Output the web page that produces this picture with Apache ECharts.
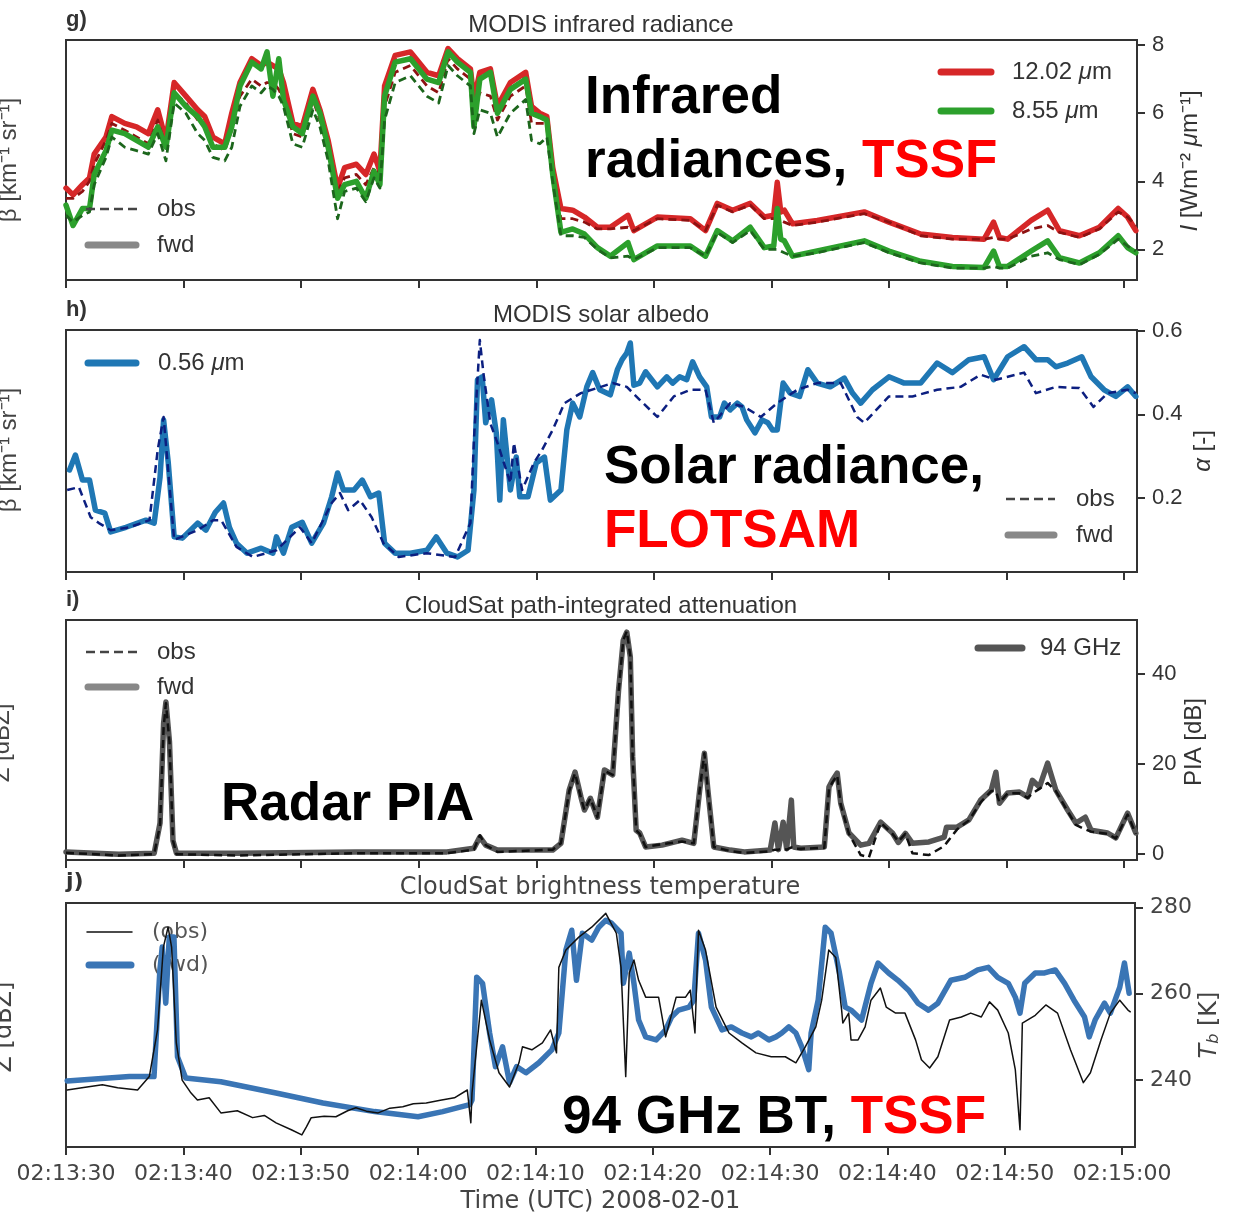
<!DOCTYPE html>
<html>
<head>
<meta charset="utf-8">
<script src="https://cdn.jsdelivr.net/npm/echarts@6/dist/echarts.min.js"></script>
<style>
  html, body { margin: 0; padding: 0; background: #fff; }
  #chart { width: 1234px; height: 1217px; }
</style>
</head>
<body>
<div id="chart"></div>
<script>
// ---- time axis (seconds after 02:13:30 UTC) ----
const xTicks = [0, 10, 20, 30, 40, 50, 60, 70, 80, 90];
const xTickLabels = ['02:13:30', '02:13:40', '02:13:50', '02:14:00', '02:14:10',
                     '02:14:20', '02:14:30', '02:14:40', '02:14:50', '02:15:00'];

// ---- g) MODIS infrared radiance [W m-2 um-1] ----
const tIR = [0.0, 0.6, 1.4, 2.0, 2.4, 3.4, 3.9, 5.0, 6.0, 7.0,
  7.8, 8.5, 9.2, 10.2, 11.2, 11.8, 12.5, 13.5, 14.1, 14.8,
  15.8, 16.6, 17.1, 17.6, 18.1, 18.5, 19.3, 20.1, 21.0, 21.6,
  22.3, 23.1, 23.7, 24.7, 25.5, 26.2, 26.7, 27.1, 28.0, 29.3,
  30.7, 31.7, 32.5, 33.3, 34.4, 34.7, 35.2, 36.1, 36.7, 37.8,
  39.1, 39.6, 40.3, 40.9, 41.4, 42.1, 43.1, 44.1, 45.2, 46.3,
  47.8, 48.3, 50.3, 53.1, 54.4, 55.4, 56.7, 58.2, 59.4, 60.2,
  60.5, 60.8, 61.1, 61.8, 63.9, 67.9, 70.0, 72.7, 75.4, 78.1,
  78.9, 79.4, 80.1, 82.1, 83.5, 84.5, 86.2, 87.9, 89.5, 90.3,
  91.0];
const ir1202Fwd = [3.8, 3.6, 3.9, 4.1, 4.8, 5.3, 5.9, 5.7, 5.6, 5.4,
  6.1, 5.2, 6.9, 6.5, 6.1, 5.9, 5.3, 5.1, 6.0, 6.9,
  7.6, 7.4, 7.5, 7.4, 7.3, 6.9, 5.7, 5.6, 6.7, 6.1,
  5.2, 3.8, 4.4, 4.5, 4.2, 4.8, 4.3, 6.8, 7.7, 7.8,
  7.2, 7.1, 7.9, 7.6, 7.3, 6.4, 7.2, 7.3, 6.2, 6.9,
  7.2, 6.2, 6.0, 5.9, 4.4, 3.2, 3.15, 2.95, 2.65, 2.65,
  3.0, 2.55, 2.95, 2.9, 2.55, 3.35, 3.15, 3.35, 2.95, 3.0,
  3.97, 3.1, 3.15, 2.75, 2.85, 3.1, 2.8, 2.45, 2.35, 2.3,
  2.8, 2.35, 2.3, 2.85, 3.15, 2.55, 2.4, 2.65, 3.2, 2.95,
  2.55];
const ir1202Obs = [3.5, 3.5, 3.7, 4.0, 4.5, 5.2, 5.7, 5.5, 5.3, 5.1,
  5.8, 5.0, 6.6, 6.3, 5.8, 5.6, 5.1, 4.9, 5.5, 6.5,
  7.0, 6.8, 6.9, 6.9, 6.7, 6.4, 5.4, 5.3, 6.4, 5.8,
  4.9, 3.7, 4.1, 4.2, 3.9, 4.4, 4.2, 6.2, 7.2, 7.4,
  6.8, 6.6, 7.6, 7.3, 7.0, 6.1, 6.6, 6.5, 5.8, 6.5,
  6.8, 5.7, 5.7, 5.7, 4.2, 2.9, 2.9, 2.8, 2.6, 2.6,
  2.65, 2.55, 2.9, 2.85, 2.55, 3.3, 3.1, 3.3, 2.9, 2.9,
  2.9, 2.85, 2.8, 2.7, 2.8, 3.05, 2.8, 2.4, 2.3, 2.3,
  2.35, 2.3, 2.3, 2.6, 2.7, 2.5, 2.35, 2.6, 3.1, 2.95,
  2.7];
const ir855Fwd = [3.3, 2.7, 3.2, 3.2, 4.2, 4.9, 5.5, 5.4, 5.2, 5.0,
  5.6, 5.0, 6.6, 6.2, 5.9, 5.6, 5.0, 5.0, 5.6, 6.8,
  7.5, 7.3, 7.8, 6.5, 7.6, 6.4, 5.6, 5.4, 6.5, 6.0,
  5.0, 3.5, 3.9, 4.0, 3.5, 4.3, 3.9, 6.5, 7.5, 7.6,
  7.0, 6.9, 7.8, 7.5, 7.2, 5.6, 7.0, 7.2, 6.0, 6.7,
  7.0, 6.0, 5.9, 5.8, 4.2, 2.5, 2.6, 2.45, 2.05, 1.8,
  2.2, 1.7, 2.1, 2.1, 1.8, 2.55, 2.25, 2.65, 2.05, 2.1,
  3.2, 2.3, 2.25, 1.8, 1.95, 2.25, 1.95, 1.65, 1.5, 1.47,
  1.95, 1.5, 1.5, 1.95, 2.25, 1.76, 1.6, 1.9, 2.4, 2.05,
  1.9];
const ir855Obs = [3.0, 2.8, 3.0, 3.1, 3.9, 4.7, 5.3, 5.0, 4.9, 4.8,
  5.4, 4.6, 6.3, 6.0, 5.4, 5.2, 4.7, 4.6, 5.0, 6.2,
  6.8, 6.6, 6.8, 6.7, 6.5, 6.2, 5.1, 5.0, 6.1, 5.6,
  4.6, 2.9, 3.7, 3.8, 3.4, 4.1, 3.8, 5.8, 6.9, 7.1,
  6.5, 6.3, 7.4, 7.1, 6.8, 5.4, 6.1, 6.0, 5.3, 6.0,
  6.4, 5.2, 5.1, 5.3, 4.0, 2.4, 2.4, 2.35, 2.0, 1.75,
  1.8, 1.7, 2.05, 2.05, 1.8, 2.5, 2.2, 2.55, 2.0, 2.0,
  2.0, 1.95, 1.9, 1.8, 1.9, 2.2, 1.9, 1.6, 1.45, 1.45,
  1.5, 1.45, 1.45, 1.8, 1.9, 1.7, 1.55, 1.85, 2.3, 2.1,
  1.95];

// ---- h) MODIS solar albedo [-] ----
const tAlbFwd = [0.3, 0.8, 1.4, 2.0, 2.5, 3.3, 3.8, 5.1, 6.8, 7.5,
  8.0, 8.3, 8.7, 9.2, 9.9, 11.2, 11.9, 12.7, 13.4, 13.9,
  14.5, 15.4, 16.6, 17.6, 17.9, 18.5, 19.2, 20.1, 20.9, 21.9,
  22.6, 23.1, 23.6, 24.5, 25.2, 25.9, 26.6, 27.1, 28.0, 29.3,
  30.7, 31.5, 32.4, 33.3, 34.2, 34.7, 35.0, 35.4, 35.7, 36.2,
  36.6, 36.9, 37.2, 37.8, 38.3, 38.6, 39.3, 40.0, 40.7, 41.2,
  42.1, 42.6, 43.1, 43.7, 44.3, 44.8, 45.4, 46.3, 46.9, 47.3,
  47.7, 48.0, 48.3, 48.8, 49.3, 50.3, 51.1, 51.6, 52.2, 52.8,
  53.3, 53.9, 54.5, 54.9, 55.6, 56.0, 56.5, 57.1, 57.5, 57.9,
  58.6, 59.2, 59.7, 60.1, 60.5, 61.0, 61.6, 62.4, 63.1, 63.9,
  65.0, 66.2, 66.9, 67.6, 68.6, 70.0, 71.3, 72.7, 74.1, 75.4,
  76.8, 78.1, 78.9, 80.1, 81.5, 82.5, 83.5, 84.2, 85.2, 86.4,
  87.2, 88.3, 89.3, 90.3, 91.0];
const albFwd = [0.267, 0.303, 0.243, 0.243, 0.171, 0.164, 0.119, 0.13, 0.147, 0.14,
  0.25, 0.387, 0.284, 0.107, 0.104, 0.14, 0.123, 0.166, 0.188, 0.13,
  0.092, 0.068, 0.08, 0.068, 0.107, 0.068, 0.13, 0.142, 0.092, 0.14,
  0.203, 0.26, 0.219, 0.219, 0.243, 0.203, 0.212, 0.092, 0.068, 0.068,
  0.075, 0.107, 0.068, 0.059, 0.075, 0.219, 0.483, 0.49, 0.38, 0.435,
  0.356, 0.195, 0.387, 0.219, 0.298, 0.203, 0.203, 0.284, 0.298, 0.195,
  0.219, 0.363, 0.427, 0.394, 0.466, 0.5, 0.459, 0.447, 0.507, 0.531,
  0.547, 0.571, 0.47, 0.475, 0.502, 0.466, 0.49, 0.475, 0.49, 0.483,
  0.526, 0.49, 0.466, 0.394, 0.394, 0.427, 0.411, 0.427, 0.418, 0.387,
  0.356, 0.387, 0.38, 0.363, 0.363, 0.475, 0.451, 0.443, 0.507, 0.475,
  0.466, 0.487, 0.451, 0.427, 0.459, 0.49, 0.475, 0.475, 0.523, 0.5,
  0.531, 0.538, 0.483, 0.538, 0.562, 0.531, 0.531, 0.514, 0.523, 0.538,
  0.49, 0.459, 0.443, 0.466, 0.443];
const tAlbObs = [0.1, 1.1, 2.1, 2.8, 3.8, 5.4, 7.1, 7.8, 8.3, 9.2,
  11.2, 12.5, 13.2, 14.5, 15.9, 17.9, 19.9, 20.9, 22.6, 23.3,
  24.0, 25.0, 26.0, 27.0, 28.3, 30.7, 33.1, 34.4, 34.7, 35.2,
  35.5, 36.1, 36.7, 37.8, 38.1, 38.8, 39.8, 40.5, 41.4, 42.4,
  43.8, 45.5, 46.5, 47.7, 48.8, 50.3, 51.7, 53.1, 54.4, 55.1,
  56.5, 57.7, 59.1, 60.5, 62.2, 63.9, 65.9, 67.3, 67.9, 70.0,
  72.0, 74.1, 76.1, 77.8, 79.1, 81.5, 82.5, 84.2, 86.2, 87.4,
  88.6, 90.3, 91.0];
const albObs = [0.219, 0.226, 0.154, 0.14, 0.123, 0.13, 0.147, 0.315, 0.394, 0.1,
  0.123, 0.147, 0.147, 0.083, 0.059, 0.075, 0.13, 0.092, 0.188, 0.212,
  0.171, 0.195, 0.154, 0.092, 0.059, 0.068, 0.059, 0.14, 0.339, 0.578,
  0.5, 0.378, 0.332, 0.236, 0.332, 0.219, 0.284, 0.315, 0.363, 0.427,
  0.451, 0.466, 0.475, 0.466, 0.435, 0.394, 0.443, 0.459, 0.459, 0.38,
  0.427, 0.418, 0.394, 0.427, 0.459, 0.475, 0.475, 0.394, 0.38, 0.443,
  0.443, 0.459, 0.466, 0.495, 0.483, 0.5, 0.451, 0.466, 0.463, 0.418,
  0.451, 0.459, 0.451];

// ---- i) CloudSat path-integrated attenuation [dB] ----
const tPia = [0.0, 4.5, 7.5, 8.0, 8.3, 8.5, 8.8, 9.1, 9.4, 14.5,
  24.7, 32.4, 34.7, 35.2, 35.7, 36.7, 41.4, 42.1, 42.8, 43.3,
  43.8, 44.1, 44.6, 45.2, 45.8, 46.5, 47.0, 47.4, 47.7, 48.0,
  48.2, 48.5, 48.8, 49.3, 50.7, 52.4, 53.4, 53.9, 54.3, 54.6,
  55.1, 56.5, 57.7, 59.9, 60.3, 60.6, 61.0, 61.3, 61.7, 61.9,
  62.5, 64.5, 64.9, 65.2, 65.6, 65.9, 66.6, 67.6, 68.3, 69.3,
  70.3, 70.8, 71.4, 72.0, 73.4, 74.7, 74.9, 75.8, 76.8, 77.8,
  78.7, 79.1, 79.4, 80.1, 81.1, 81.8, 82.2, 82.8, 83.5, 84.2,
  85.2, 85.9, 86.7, 87.2, 88.6, 89.3, 90.3, 91.0];
const piaFwd = [0.5, 0.0, 0.2, 6.9, 29, 33.8, 25, 3, 0.2, 0.2,
  0.5, 0.5, 1.3, 3.8, 2.0, 0.9, 0.9, 2.4, 14.2, 18.2,
  12.7, 9.8, 12.4, 8.2, 18.7, 17.6, 36.4, 47.5, 49.3, 43.8,
  21.6, 5.3, 4.7, 1.6, 2.0, 3.1, 2.4, 14.2, 22.4, 14.2,
  1.6, 0.9, 0.5, 0.9, 6.9, 1.0, 7.1, 1.2, 12.0, 1.6,
  1.3, 1.6, 14.9, 16.4, 18.0, 11.3, 4.7, 2.0, 2.4, 7.1,
  4.7, 2.6, 4.6, 2.4, 2.7, 3.8, 6.0, 6.0, 7.6, 12.0,
  14.2, 18.2, 11.3, 13.6, 13.8, 12.7, 16.4, 14.9, 20.2, 14.2,
  9.8, 6.9, 8.2, 5.3, 4.7, 3.6, 9.1, 4.7];
const piaObs = [0.3, -0.3, 0.0, 6.5, 28, 33.5, 25, 3, 0.0, -0.3,
  0.2, 0.2, 1.0, 4.2, 2.0, 0.5, 1.0, 2.4, 14.0, 18.0,
  12.5, 9.8, 12.4, 8.2, 18.5, 17.6, 36, 47.5, 49.5, 44,
  21.6, 5.3, 4.5, 1.6, 2.2, 2.8, 2.4, 14.2, 22.4, 14.2,
  1.6, 0.7, 0.3, 0.6, 1.0, 1.0, 1.2, 1.0, 1.5, 1.2,
  1.2, 1.4, 14.5, 16.0, 17.5, 11.0, 4.5, -0.2, -0.7, 7.0,
  4.5, 2.8, 4.5, 0.2, -0.2, 1.8, 2.5, 5.5, 7.5, 11.5,
  14.0, 14.0, 11.5, 13.5, 13.5, 12.5, 13.5, 14.5, 15.8, 14.0,
  9.5, 6.5, 5.5, 5.0, 4.5, 3.5, 8.8, 4.5];

// ---- j) CloudSat 94 GHz brightness temperature [K] ----
const tTbFwd = [0.1, 5.4, 7.5, 8.0, 8.2, 8.5, 8.8, 9.2, 9.5, 10.2,
  13.2, 17.9, 21.9, 26.3, 30.0, 32.1, 34.4, 34.6, 35.0, 35.5,
  36.1, 36.6, 37.2, 37.8, 38.4, 39.2, 40.3, 41.4, 42.0, 42.6,
  43.1, 43.5, 44.0, 44.8, 45.4, 46.0, 46.5, 47.3, 47.5, 48.0,
  48.4, 48.8, 49.4, 50.3, 51.1, 51.6, 52.2, 53.1, 53.5, 53.9,
  54.5, 55.0, 55.9, 56.7, 57.6, 58.4, 59.0, 59.9, 60.5, 61.0,
  61.6, 62.2, 62.7, 63.3, 63.5, 64.1, 64.7, 65.2, 65.9, 66.4,
  66.9, 67.8, 68.6, 69.2, 70.1, 70.9, 71.8, 72.6, 73.5, 74.3,
  75.4, 76.6, 77.7, 78.6, 79.4, 80.3, 80.9, 81.3, 81.7, 82.6,
  83.4, 84.3, 85.1, 85.9, 86.8, 87.2, 87.7, 88.5, 89.0, 89.8,
  90.2, 90.6];
const tbFwd = [239.8, 240.8, 240.8, 265.5, 270.8, 257.8, 273.1, 273.1, 245.4, 240.5,
  239.6, 237, 234.7, 232.7, 231.5, 232.7, 234.3, 235.4, 263.8, 262.4,
  250.9, 243.1, 247.7, 239.4, 243.1, 241.7, 244, 247, 250.9, 270.1,
  274.7, 263.1, 274, 272.4, 275.4, 277, 276.3, 274, 262.4, 269.4,
  262.4, 253.9, 250, 249.3, 251.6, 254.6, 256.2, 256.9, 258.5, 274,
  267.8, 256.9, 251.6, 252.3, 250.9, 250, 250.9, 249.3, 250, 250.9,
  252.3, 250.9, 247.7, 242.4, 250.9, 258.5, 275.4, 274, 265, 256.9,
  256.2, 253.9, 262.4, 267.1, 264.8, 263.1, 260.8, 257.8, 256.2, 257.8,
  263.1, 263.8, 265.5, 266.1, 263.8, 262.4, 259.2, 255.5, 262.4, 264.8,
  264.8, 265.5, 262.4, 258.5, 254.6, 250, 253.9, 257.8, 255.5, 261.5,
  267.1, 260.1];
const tTbObs = [0.1, 1.5, 3.1, 4.4, 6.1, 7.1, 7.8, 8.3, 8.7, 9.0,
  9.4, 9.9, 10.6, 11.2, 12.2, 13.2, 14.6, 15.9, 16.9, 17.9,
  19.2, 20.1, 20.5, 20.9, 22.0, 23.0, 24.0, 24.7, 25.6, 26.6,
  27.6, 28.7, 29.6, 30.7, 31.9, 33.1, 34.2, 34.5, 34.6, 35.4,
  36.1, 36.9, 37.8, 38.6, 38.9, 39.7, 40.6, 41.3, 41.8, 42.0,
  42.6, 43.7, 44.8, 46.0, 46.9, 47.3, 47.7, 48.0, 48.4, 48.8,
  49.4, 50.5, 51.1, 52.0, 52.8, 53.2, 53.6, 53.9, 54.5, 55.4,
  56.5, 57.6, 58.8, 60.1, 61.3, 62.2, 63.0, 63.9, 64.4, 65.0,
  65.6, 66.1, 66.2, 66.7, 66.9, 67.5, 68.1, 68.6, 69.4, 69.9,
  70.7, 71.5, 72.4, 72.9, 73.6, 74.3, 75.3, 76.3, 77.1, 78.0,
  78.7, 79.4, 80.3, 80.9, 81.3, 81.5, 82.6, 83.5, 84.5, 85.6,
  86.7, 87.3, 88.2, 89.0, 89.8, 90.5, 90.7];
const tbObs = [237.7, 238.3, 238.9, 238.2, 237.7, 240.8, 251.6, 270.8, 275.4, 270.8,
  248.6, 240, 237.2, 235.4, 235.9, 232.4, 232.9, 231.3, 231.8, 230.1,
  228.5, 227.3, 229.2, 231.3, 231.6, 231.5, 232.9, 233.6, 232.8, 232.4,
  233.5, 233.8, 234.5, 234.7, 235.3, 235.9, 237.7, 230.1, 237, 258.5,
  249.3, 241.7, 238.4, 244, 247.7, 247, 248.6, 251.6, 246.3, 266.1,
  270.1, 273.1, 275.4, 278.6, 274, 266.1, 240.8, 264.8, 267.8, 263.1,
  259.2, 259.2, 250, 259.2, 259.2, 260.8, 250.9, 274.7, 270.1, 256.9,
  250.9, 248.6, 246.3, 245.4, 245.4, 244, 247.7, 252.3, 258.5, 270.1,
  268.4, 256.2, 253.2, 255.5, 249.3, 249.3, 252.3, 258.5, 261.3, 256.9,
  255.5, 255.5, 249.3, 244.7, 242.8, 245.4, 253.9, 254.6, 255.5, 254.6,
  258.1, 256.2, 250.9, 242.4, 228.5, 253.2, 255, 257.4, 255.5, 247,
  239.4, 241.7, 249.3, 255.5, 258.5, 256.2, 255.8];

// ---- right-hand value axes: tick positions ----
const irTicks = [2, 4, 6, 8];
const albTicks = [0.2, 0.4, 0.6];
const piaTicks = [0, 20, 40];
const tbTicks = [240, 260, 280];

const SANS = '"Liberation Sans", Arial, Helvetica, sans-serif';
const DJV = '"DejaVu Sans", Verdana, sans-serif';
const INK = '#333';

const grids = [
  { left: 66, top: 40, width: 1071, height: 240 },
  { left: 66, top: 330, width: 1071, height: 242 },
  { left: 66, top: 620, width: 1071, height: 240 },
  { left: 66, top: 903, width: 1069, height: 244 }
].map(g => Object.assign(g, { show: true, borderColor: INK, borderWidth: 2, backgroundColor: 'transparent' }));

function xAxisFor(i, withLabels) {
  const font = i === 3 ? DJV : SANS;
  const ax = {
    type: 'value', gridIndex: i, min: 0, max: 91.1,
    axisLine: { show: false, onZero: false },
    splitLine: { show: false },
    axisTick: { show: true, inside: false, length: 8, customValues: xTicks,
                lineStyle: { color: INK, width: 2 } },
    axisLabel: { show: withLabels, customValues: xTicks, margin: 16,
                 formatter: v => xTickLabels[Math.round(v / 10)],
                 color: '#444', fontSize: 22, fontFamily: font }
  };
  if (withLabels) {
    Object.assign(ax, {
      name: 'Time (UTC) 2008-02-01', nameLocation: 'middle', nameGap: 43,
      nameTextStyle: { color: '#444', fontSize: 24, fontFamily: DJV }
    });
  }
  return ax;
}

function yAxisFor(i, min, max, ticks, fmt) {
  const font = i === 3 ? DJV : SANS;
  return {
    type: 'value', gridIndex: i, position: 'right', min, max,
    axisLine: { show: false, onZero: false },
    splitLine: { show: false },
    axisTick: { show: true, inside: false, length: 8, customValues: ticks,
                lineStyle: { color: INK, width: 2 } },
    axisLabel: { customValues: ticks, formatter: fmt, margin: 15,
                 color: i === 3 ? '#444' : INK, fontSize: 22, fontFamily: font }
  };
}

function line(name, gi, ts, vs, color, width, dash) {
  return {
    name, type: 'line', xAxisIndex: gi, yAxisIndex: gi,
    data: ts.map((t, k) => [t, vs[k]]),
    showSymbol: false, symbol: 'none', animation: false, silent: true,
    lineStyle: { color, width, type: dash || 'solid', cap: dash ? 'butt' : 'round', join: 'round' }
  };
}

// ---- text and legend helpers for the graphic layer ----
function txt(x, y, text, o) {
  o = o || {};
  return {
    type: 'text', x, y, rotation: o.rot || 0, z: o.z == null ? 50 : o.z,
    style: {
      text, fill: o.fill || INK, fontSize: o.size || 24, fontFamily: o.font || SANS,
      fontWeight: o.weight || 'normal', fontStyle: o.style || 'normal',
      align: o.align || 'left', verticalAlign: o.va || 'middle',
      lineHeight: o.lh, rich: o.rich
    }
  };
}
function seg(x1, y1, x2, y2, stroke, w, dash, z) {
  return {
    type: 'line', z: z == null ? 50 : z,
    shape: { x1, y1, x2, y2 },
    style: { stroke, lineWidth: w, lineDash: dash || null, lineCap: dash ? 'butt' : 'round' }
  };
}
const italicRich = (size, font, fill) => ({
  i: { fontStyle: 'italic', fontSize: size, fontFamily: font, fill: fill },
  n: { fontSize: size, fontFamily: font, fill: fill }
});
const DASH = [9, 5];
const BIG = 53;
const redRich = { r: { fill: '#ff0000', fontWeight: 'bold', fontSize: BIG, fontFamily: SANS, lineHeight: 64 } };

const graphics = [
  // panel letters and titles
  txt(66, 20, 'g)', { weight: 'bold', size: 22 }),
  txt(601, 25, 'MODIS infrared radiance', { align: 'center' }),
  txt(66, 310, 'h)', { weight: 'bold', size: 22 }),
  txt(601, 315, 'MODIS solar albedo', { align: 'center' }),
  txt(66, 600, 'i)', { weight: 'bold', size: 22 }),
  txt(601, 606, 'CloudSat path-integrated attenuation', { align: 'center' }),
  txt(66, 882, 'j)', { weight: 'bold', size: 22, font: DJV }),
  txt(600, 888, 'CloudSat brightness temperature', { align: 'center', font: DJV, fill: '#444' }),

  // right-hand axis names
  txt(1190, 161, '{i|I}{n| [Wm⁻² }{i|μ}{n|m⁻¹]}', { rot: Math.PI / 2, align: 'center', rich: italicRich(24, SANS, INK) }),
  txt(1203, 451, '{i|α}{n| [-]}', { rot: Math.PI / 2, align: 'center', rich: italicRich(24, SANS, INK) }),
  txt(1194, 742, 'PIA [dB]', { rot: Math.PI / 2, align: 'center' }),
  txt(1210, 1025, '{i|T}{s|b}{n| [K]}', { rot: Math.PI / 2, align: 'center',
      rich: Object.assign(italicRich(24, DJV, '#444'), { s: { fontStyle: 'italic', fontSize: 16, fontFamily: DJV, fill: '#444', verticalAlign: 'bottom', lineHeight: 24 } }) }),

  // left-hand axis names cut by the page edge
  txt(9, 160, 'β [km⁻¹ sr⁻¹]', { rot: Math.PI / 2, align: 'center', fill: '#444' }),
  txt(9, 450, 'β [km⁻¹ sr⁻¹]', { rot: Math.PI / 2, align: 'center', fill: '#444' }),
  txt(2, 743, 'Z [dBZ]', { rot: Math.PI / 2, align: 'center', fill: '#444' }),
  txt(5, 1027, 'Z [dBZ]', { rot: Math.PI / 2, align: 'center', fill: '#444', font: DJV }),

  // g) legends
  seg(941, 72, 991, 72, '#d62728', 7),
  txt(1012, 72, '{n|12.02 }{i|μ}{n|m}', { rich: italicRich(24, SANS, INK) }),
  seg(941, 111, 991, 111, '#2ca02c', 7),
  txt(1012, 111, '{n|8.55 }{i|μ}{n|m}', { rich: italicRich(24, SANS, INK) }),
  seg(86, 209, 137, 209, '#444', 2.5, DASH),
  txt(157, 209, 'obs'),
  seg(88, 245, 136, 245, '#888', 7),
  txt(157, 245, 'fwd'),

  // h) legends
  seg(88, 363, 136, 363, '#1f77b4', 7),
  txt(158, 363, '{n|0.56 }{i|μ}{n|m}', { rich: italicRich(24, SANS, INK) }),
  seg(1006, 499, 1055, 499, '#444', 2.5, DASH),
  txt(1076, 499, 'obs'),
  seg(1008, 535, 1054, 535, '#888', 7),
  txt(1076, 535, 'fwd'),

  // i) legends
  seg(86, 652, 137, 652, '#444', 2.5, DASH),
  txt(157, 652, 'obs'),
  seg(88, 687, 136, 687, '#888', 7),
  txt(157, 687, 'fwd'),
  seg(978, 648, 1022, 648, '#555', 7),
  txt(1040, 648, '94 GHz'),

  // j) legend, drawn beneath the data lines
  seg(87, 932, 132, 932, '#111', 1.5, null, 1),
  txt(152, 932, '(obs)', { font: DJV, size: 22, fill: '#555', z: 1 }),
  seg(89, 965, 131, 965, '#3a75b5', 7, null, 1),
  txt(152, 965, '(fwd)', { font: DJV, size: 22, fill: '#555', z: 1 }),

  // panel annotations
  txt(585, 66, 'Infrared\nradiances, {r|TSSF}', { weight: 'bold', size: BIG, fill: '#000', va: 'top', lh: 64, z: 60, rich: redRich }),
  txt(604, 436, 'Solar radiance,\n{r|FLOTSAM}', { weight: 'bold', size: BIG, fill: '#000', va: 'top', lh: 64, z: 60, rich: redRich }),
  txt(221, 773, 'Radar PIA', { weight: 'bold', size: BIG, fill: '#000', va: 'top', lh: 64, z: 60 }),
  txt(562, 1086, '94 GHz BT, {r|TSSF}', { weight: 'bold', size: BIG, fill: '#000', va: 'top', lh: 64, z: 60, rich: redRich })
];

const option = {
  backgroundColor: '#ffffff',
  animation: false,
  grid: grids,
  xAxis: [xAxisFor(0, false), xAxisFor(1, false), xAxisFor(2, false), xAxisFor(3, true)],
  yAxis: [
    yAxisFor(0, 1.1, 8.15, irTicks, v => String(v)),
    yAxisFor(1, 0.023, 0.602, albTicks, v => v.toFixed(1)),
    yAxisFor(2, -1.3, 52, piaTicks, v => String(v)),
    yAxisFor(3, 224.5, 281, tbTicks, v => String(v))
  ],
  series: [
    line('12.02 μm fwd', 0, tIR, ir1202Fwd, '#d62728', 5.5),
    line('12.02 μm obs', 0, tIR, ir1202Obs, '#8e1212', 2.8, [8, 5]),
    line('8.55 μm fwd', 0, tIR, ir855Fwd, '#2ca02c', 5.5),
    line('8.55 μm obs', 0, tIR, ir855Obs, '#1c661c', 2.8, [8, 5]),
    line('0.56 μm fwd', 1, tAlbFwd, albFwd, '#1f77b4', 5.5),
    line('0.56 μm obs', 1, tAlbObs, albObs, '#0c1f80', 2.5, [8, 5]),
    line('94 GHz fwd', 2, tPia, piaFwd, '#555555', 5.5),
    line('94 GHz obs', 2, tPia, piaObs, '#111111', 2.5, [8, 5]),
    line('(fwd)', 3, tTbFwd, tbFwd, '#3a75b5', 5.5),
    line('(obs)', 3, tTbObs, tbObs, '#111111', 1.5)
  ],
  graphic: graphics
};

const chart = echarts.init(document.getElementById('chart'), null, { renderer: 'canvas' });
chart.setOption(option);
</script>
</body>
</html>
